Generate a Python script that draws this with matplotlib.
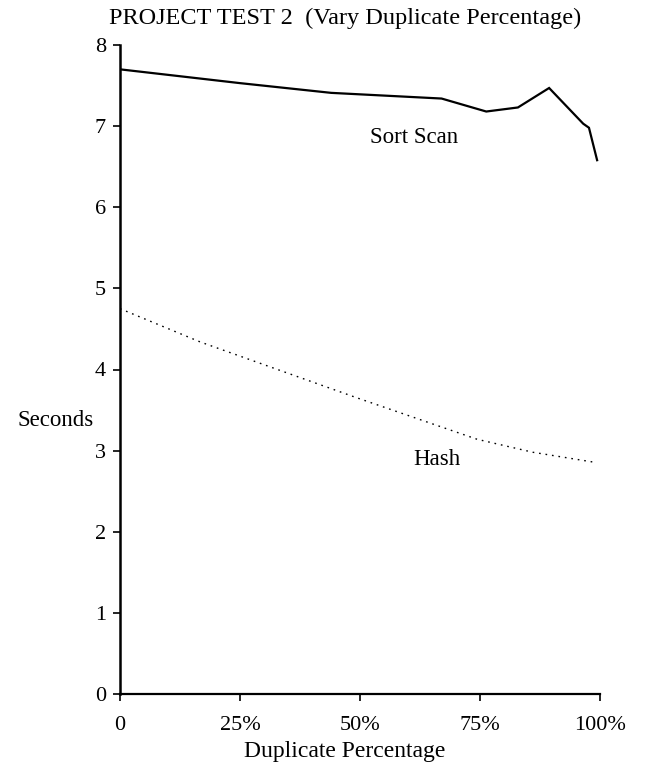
import matplotlib
matplotlib.use("Agg")
import matplotlib.pyplot as plt

# Data (Duplicate percentage vs seconds)
sort_x = [0, 25, 44, 67, 76.3, 82.9, 89.4, 96.5, 97.7, 99.4]
sort_y = [7.70, 7.53, 7.41, 7.34, 7.18, 7.23, 7.47, 7.03, 6.98, 6.58]

hash_x = [0, 16.7, 49.4, 74.4, 86, 98.5]
hash_y = [4.75, 4.34, 3.65, 3.14, 2.98, 2.86]

x_ticks = [0, 25, 50, 75, 100]
x_tick_labels = ["0", "25%", "50%", "75%", "100%"]
y_ticks = [0, 1, 2, 3, 4, 5, 6, 7, 8]

plt.rcParams['font.family'] = ['Liberation Serif', 'DejaVu Serif']

fig = plt.figure(figsize=(6.6, 7.65), dpi=100)
ax = fig.add_axes([120/660, 1-694/765, 480/660, 649/765])

ax.plot(sort_x, sort_y, color='black', lw=1.6, solid_joinstyle='miter')
ax.plot(hash_x, hash_y, color='black', lw=1.0, linestyle=(0, (1.2, 3.5)))

ax.set_xlim(0, 100)
ax.set_ylim(0, 8)
ax.spines['top'].set_visible(False)
ax.spines['right'].set_visible(False)
ax.spines['left'].set_linewidth(1.8)
ax.spines['bottom'].set_linewidth(1.6)

ax.set_xticks(x_ticks)
ax.set_xticklabels(x_tick_labels)
ax.set_yticks(y_ticks)
ax.tick_params(axis='both', direction='out', length=5, width=1.2, labelsize=16, colors='black')
ax.tick_params(axis='x', pad=11)
ax.tick_params(axis='y', pad=5)

ax.text(61.3, 6.86, "Sort Scan", fontsize=16.5, ha='center', va='center')
ax.text(66, 2.89, "Hash", fontsize=16.5, ha='center', va='center')

fig.text(56/660, 1-420/765, "Seconds", fontsize=16.5, ha='center', va='center')
fig.text(345/660, 1-752/765, "Duplicate Percentage", fontsize=17, ha='center', va='center')
fig.text(345/660, 1-18/765, "PROJECT TEST 2  (Vary Duplicate Percentage)", fontsize=17.5, ha='center', va='center')

fig.savefig("out.png", dpi=100)
